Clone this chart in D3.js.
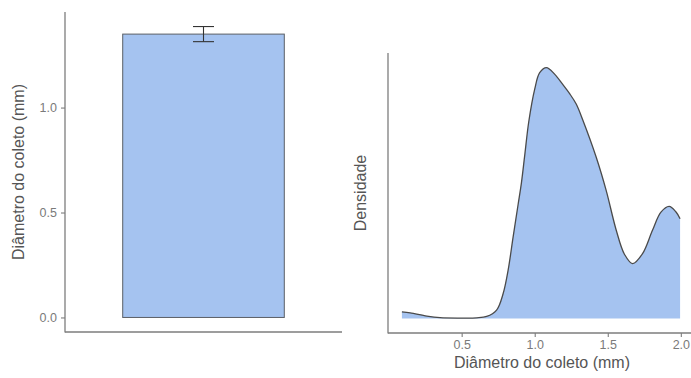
<!DOCTYPE html>
<html>
<head>
<meta charset="utf-8">
<script src="https://cdn.jsdelivr.net/npm/d3@7"></script>
<style>
  body { margin: 0; background: #fff; }
  svg { display: block; font-family: "Liberation Sans", Arial, sans-serif; }
</style>
</head>
<body>
<script>
// bar panel
const categories = ["coleto"];
const barMeans = [1.35];
const barErrors = [0.036];
const leftTicks = [0, 0.5, 1.0];

// density panel
const densX = [0.091, 0.148, 0.262, 0.352, 0.489, 0.603, 0.671, 0.739, 0.784, 0.818,
  0.852, 0.886, 0.909, 0.932, 0.959, 1.000, 1.034, 1.080, 1.136, 1.193,
  1.239, 1.284, 1.329, 1.421, 1.489, 1.557, 1.614, 1.670, 1.738, 1.806,
  1.864, 1.920, 1.966, 1.995];
const densY = [0.033, 0.028, 0.012, 0.004, 0.002, 0.003, 0.010, 0.042, 0.125, 0.242,
  0.408, 0.570, 0.680, 0.820, 0.985, 1.150, 1.232, 1.258, 1.225, 1.172,
  1.127, 1.075, 0.995, 0.808, 0.642, 0.445, 0.322, 0.275, 0.325, 0.442,
  0.533, 0.562, 0.535, 0.500];
const rightTicks = [0.5, 1.0, 1.5, 2.0];

const W = 691, H = 378;
const fillCol = "#a5c3f0", lineCol = "#4a4a4a", axisCol = "#7d7d7d";
const tickTextCol = "#7a7a7a", titleCol = "#555";

const svg = d3.select("body").append("svg")
  .attr("width", W)
  .attr("height", H);

////////// left: bar + error bar
const L = {x0: 65, x1: 342, y0: 12, y1: 332};

const xBand = d3.scaleBand()
  .domain(categories)
  .range([L.x0, L.x1])
  .paddingInner(0.3)
  .paddingOuter(0.25);

const topVal = d3.max(barMeans.map((m, i) => m + barErrors[i]));
const yLeft = d3.scaleLinear()
  .domain([-0.05 * topVal, topVal * 1.05])
  .range([L.y1, L.y0]);

const gL = svg.append("g");

gL.selectAll("rect.bar")
  .data(categories)
  .enter().append("rect")
  .attr("class", "bar")
  .attr("x", d => xBand(d))
  .attr("width", xBand.bandwidth())
  .attr("y", (d, i) => yLeft(barMeans[i]))
  .attr("height", (d, i) => yLeft(0) - yLeft(barMeans[i]))
  .attr("fill", fillCol)
  .attr("stroke", "#5a5f66")
  .attr("stroke-width", 1);

const capW = xBand.bandwidth() * 0.13;
categories.forEach((c, i) => {
  const cx = xBand(c) + xBand.bandwidth() / 2;
  const lo = yLeft(barMeans[i] - barErrors[i]), hi = yLeft(barMeans[i] + barErrors[i]);
  const eb = gL.append("g").attr("stroke", "#333").attr("stroke-width", 1.1);
  eb.append("line").attr("x1", cx).attr("x2", cx).attr("y1", lo).attr("y2", hi);
  eb.append("line").attr("x1", cx - capW / 2).attr("x2", cx + capW / 2).attr("y1", lo).attr("y2", lo);
  eb.append("line").attr("x1", cx - capW / 2).attr("x2", cx + capW / 2).attr("y1", hi).attr("y2", hi);
});

const axL = gL.append("g")
  .attr("transform", `translate(${L.x0},0)`)
  .call(d3.axisLeft(yLeft).tickValues(leftTicks).tickFormat(d3.format(".1f")).tickSize(4).tickPadding(4));
axL.select(".domain").remove();
axL.selectAll(".tick line").attr("stroke", axisCol).attr("stroke-width", 1.1);
axL.selectAll(".tick text").attr("fill", tickTextCol).style("font-size", "12.5px");

// axis lines (left panel)
gL.append("line").attr("x1", L.x0).attr("x2", L.x0).attr("y1", L.y0).attr("y2", L.y1 + 0.6)
  .attr("stroke", axisCol).attr("stroke-width", 1.3);
gL.append("line").attr("x1", L.x0).attr("x2", L.x1).attr("y1", L.y1).attr("y2", L.y1)
  .attr("stroke", axisCol).attr("stroke-width", 1.3);

gL.append("text")
  .attr("transform", `translate(24,${(L.y0 + L.y1) / 2}) rotate(-90)`)
  .attr("text-anchor", "middle")
  .attr("fill", titleCol)
  .style("font-size", "16px")
  .text("Diâmetro do coleto (mm)");

////////// right: density
const R = {x0: 388, x1: 694, y0: 53, y1: 333};

const xMin = d3.min(densX), xMax = d3.max(densX), xPad = 0.05 * (xMax - xMin);
const xRight = d3.scaleLinear()
  .domain([xMin - xPad, xMax + xPad])
  .range([R.x0, R.x1]);

const yMax = d3.max(densY);
const yRight = d3.scaleLinear()
  .domain([-0.05 * yMax, yMax * 1.05])
  .range([R.y1 - 2, R.y0 + 2]);

const pts = densX.map((x, i) => [x, densY[i]]);

const area = d3.area()
  .x(d => xRight(d[0]))
  .y0(yRight(0))
  .y1(d => yRight(d[1]))
  .curve(d3.curveCatmullRom.alpha(0.5));

const line = d3.line()
  .x(d => xRight(d[0]))
  .y(d => yRight(d[1]))
  .curve(d3.curveCatmullRom.alpha(0.5));

const gR = svg.append("g");

gR.append("path")
  .datum(pts)
  .attr("fill", fillCol)
  .attr("d", area);

gR.append("path")
  .datum(pts)
  .attr("fill", "none")
  .attr("stroke", lineCol)
  .attr("stroke-width", 1.3)
  .attr("d", line);

const axR = gR.append("g")
  .attr("transform", `translate(0,${R.y1})`)
  .call(d3.axisBottom(xRight).tickValues(rightTicks).tickFormat(d3.format(".1f")).tickSize(4).tickPadding(3));
axR.select(".domain").remove();
axR.selectAll(".tick line").attr("stroke", axisCol).attr("stroke-width", 1.1);
axR.selectAll(".tick text").attr("fill", tickTextCol).style("font-size", "12.5px");

gR.append("line").attr("x1", R.x0).attr("x2", R.x0).attr("y1", R.y0).attr("y2", R.y1 + 0.6)
  .attr("stroke", axisCol).attr("stroke-width", 1.3);
gR.append("line").attr("x1", R.x0).attr("x2", R.x1).attr("y1", R.y1).attr("y2", R.y1)
  .attr("stroke", axisCol).attr("stroke-width", 1.3);

gR.append("text")
  .attr("transform", `translate(366,${(R.y0 + R.y1) / 2}) rotate(-90)`)
  .attr("text-anchor", "middle")
  .attr("fill", titleCol)
  .style("font-size", "16px")
  .text("Densidade");

gR.append("text")
  .attr("x", 542)
  .attr("y", 368)
  .attr("text-anchor", "middle")
  .attr("fill", titleCol)
  .style("font-size", "16px")
  .text("Diâmetro do coleto (mm)");
</script>
</body>
</html>
